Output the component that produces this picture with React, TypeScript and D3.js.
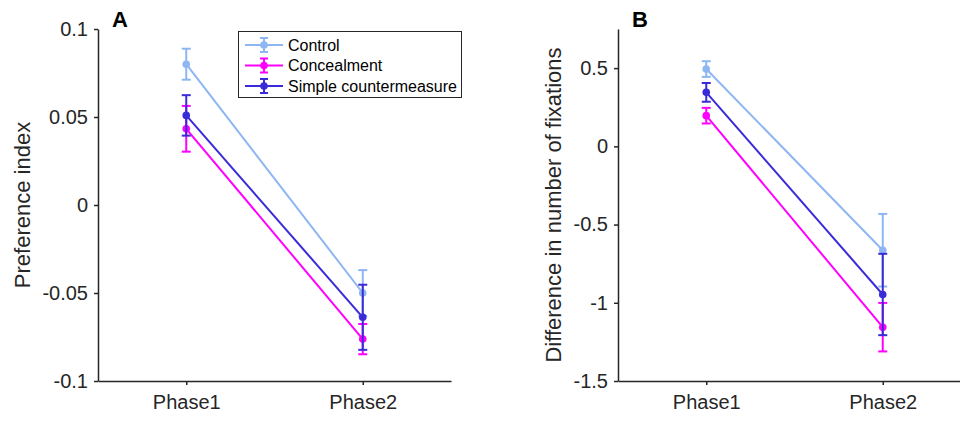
import React, { useEffect, useRef } from "react";
import * as d3 from "d3";

const phases = ["Phase1", "Phase2"];
const seriesNames = ["Control", "Concealment", "Simple countermeasure"];
const seriesColors = ["#8db6f2", "#ff00ff", "#3a2bd8"];

// panel A: preference index (mean, error)
const prefMean = [
  [0.080, -0.050],
  [0.0433, -0.0762],
  [0.0509, -0.0638],
];
const prefErr = [
  [0.0088, 0.013],
  [0.013, 0.0086],
  [0.0115, 0.0185],
];

// panel B: difference in number of fixations
const fixMean = [
  [0.494, -0.664],
  [0.196, -1.156],
  [0.345, -0.947],
];
const fixErr = [
  [0.05, 0.232],
  [0.05, 0.155],
  [0.06, 0.26],
];

const prefTicks = [-0.1, -0.05, 0, 0.05, 0.1];
const fixTicks = [-1.5, -1, -0.5, 0, 0.5];

const FONT = "'Liberation Sans', Arial, sans-serif";
const AXIS = "#262626";

const App = () => {
  const svgRef = useRef<SVGSVGElement>(null);

  useEffect(() => {
    const svg = d3.select(svgRef.current);
    svg.selectAll("*").remove();

    const top = 29, bottom = 381;

    const drawPanel = (opts: any) => {
      const { left, yDomain, ticks, means, errs, label, letter, labelX } = opts;
      const x = d3.scaleLinear().domain([0.5, 2.5]).range([left, left + 353]);
      const y = d3.scaleLinear().domain(yDomain).range([bottom, top]);
      const g = svg.append("g");

      // axes
      const yAxis = g.append("g")
        .attr("transform", `translate(${left},0)`)
        .call(d3.axisLeft(y).tickValues(ticks).tickSize(4).tickSizeOuter(0)
          .tickFormat((d: any) => String(d)));
      yAxis.select(".domain").attr("stroke", AXIS).attr("stroke-width", 1.5);
      yAxis.selectAll(".tick line").attr("stroke", AXIS).attr("stroke-width", 1.5);
      yAxis.selectAll(".tick text")
        .attr("font-family", FONT).attr("font-size", 20).attr("fill", "#262626")
        .attr("x", -10);

      const xAxis = g.append("g")
        .attr("transform", `translate(0,${bottom})`)
        .call(d3.axisBottom(x).tickValues([1, 2]).tickSize(4).tickSizeOuter(0)
          .tickFormat((d: any) => phases[d - 1]));
      xAxis.select(".domain").attr("stroke", AXIS).attr("stroke-width", 1.5);
      xAxis.selectAll(".tick line").attr("stroke", AXIS).attr("stroke-width", 1.5);
      xAxis.selectAll(".tick text")
        .attr("font-family", FONT).attr("font-size", 20).attr("fill", "#262626")
        .attr("y", 14);

      g.append("text")
        .attr("transform", `translate(${labelX},205) rotate(-90)`)
        .attr("text-anchor", "middle")
        .attr("dominant-baseline", "central")
        .attr("font-family", FONT).attr("font-size", 22).attr("fill", "#262626")
        .text(label);

      g.append("text")
        .attr("x", left + 14).attr("y", 27)
        .attr("font-family", FONT).attr("font-size", 22).attr("font-weight", "bold")
        .attr("fill", "#000")
        .text(letter);

      // series
      means.forEach((m: number[], si: number) => {
        const color = seriesColors[si];
        const pts = m.map((v, i) => ({ x: i + 1, v, e: errs[si][i] }));
        g.append("path")
          .attr("d", d3.line<any>().x(d => x(d.x)).y(d => y(d.v))(pts))
          .attr("fill", "none").attr("stroke", color).attr("stroke-width", 2);
        pts.forEach((p) => {
          const cx = x(p.x);
          g.append("line")
            .attr("x1", cx).attr("x2", cx)
            .attr("y1", y(p.v + p.e)).attr("y2", y(p.v - p.e))
            .attr("stroke", color).attr("stroke-width", 2);
          [p.v + p.e, p.v - p.e].forEach((yy) => {
            g.append("line")
              .attr("x1", cx - 4.5).attr("x2", cx + 4.5)
              .attr("y1", y(yy)).attr("y2", y(yy))
              .attr("stroke", color).attr("stroke-width", 2);
          });
          g.append("circle")
            .attr("cx", cx).attr("cy", y(p.v)).attr("r", 3.8)
            .attr("fill", color);
        });
      });
    };

    drawPanel({
      left: 98, yDomain: [-0.1, 0.1], ticks: prefTicks, means: prefMean, errs: prefErr,
      label: "Preference index", letter: "A", labelX: 22,
    });
    drawPanel({
      left: 618, yDomain: [-1.5, 0.75], ticks: fixTicks, means: fixMean, errs: fixErr,
      label: "Difference in number of fixations", letter: "B", labelX: 553,
    });

    // legend
    const lg = svg.append("g");
    lg.append("rect")
      .attr("x", 238.5).attr("y", 31.5).attr("width", 223).attr("height", 66)
      .attr("fill", "#fff").attr("stroke", AXIS).attr("stroke-width", 1);
    seriesNames.forEach((name, i) => {
      const yy = 45 + i * 20.5;
      const c = seriesColors[i];
      lg.append("line").attr("x1", 245).attr("x2", 283).attr("y1", yy).attr("y2", yy)
        .attr("stroke", c).attr("stroke-width", 2);
      lg.append("line").attr("x1", 264).attr("x2", 264).attr("y1", yy - 7).attr("y2", yy + 7)
        .attr("stroke", c).attr("stroke-width", 2);
      [yy - 7, yy + 7].forEach((cy) => {
        lg.append("line").attr("x1", 260).attr("x2", 268).attr("y1", cy).attr("y2", cy)
          .attr("stroke", c).attr("stroke-width", 2);
      });
      lg.append("circle").attr("cx", 264).attr("cy", yy).attr("r", 3.8).attr("fill", c);
      lg.append("text").attr("x", 288).attr("y", yy)
        .attr("dominant-baseline", "central")
        .attr("font-family", FONT).attr("font-size", 16).attr("fill", "#000")
        .text(name);
    });
  }, []);

  return (
    <div style={{ position: "absolute", left: 0, top: 0 }}>
      <svg ref={svgRef} width={960} height={421} style={{ display: "block", background: "#fff" }} />
    </div>
  );
};

export default App;
